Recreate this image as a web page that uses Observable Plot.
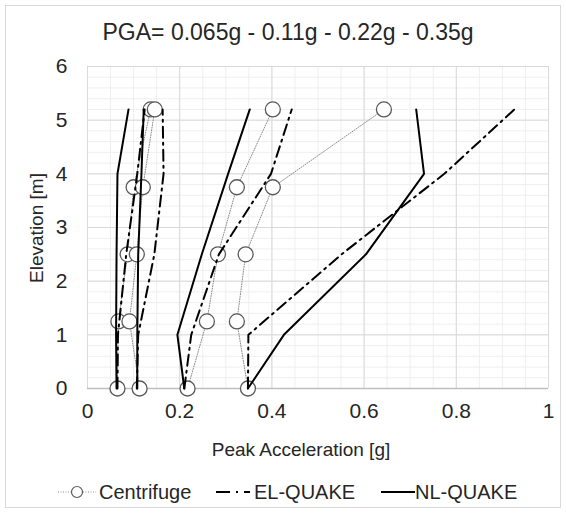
<!DOCTYPE html>
<html><head><meta charset="utf-8">
<script src="https://cdn.jsdelivr.net/npm/d3@7"></script>
<script src="https://cdn.jsdelivr.net/npm/@observablehq/plot@0.6"></script>
<style>
body{margin:0;background:#fff;}
#wrap{position:relative;width:566px;height:513px;font-family:"Liberation Sans",Arial,sans-serif;color:#262626;overflow:hidden;}
#frame{position:absolute;left:5px;top:5px;width:554px;height:501px;border:1px solid #d9d9d9;}
#title{position:absolute;left:0;width:576px;top:19px;text-align:center;font-size:23px;white-space:nowrap;}
#chart{position:absolute;left:0;top:0;}
#xlab{position:absolute;left:201px;width:200px;top:439px;text-align:center;font-size:19px;white-space:nowrap;}
#ylab{position:absolute;left:37px;top:228px;transform:translate(-50%,-50%) rotate(-90deg);font-size:19px;white-space:nowrap;}
#legend{position:absolute;left:0;top:476px;}
</style></head>
<body>
<div id="wrap">
  <div id="frame"></div>
  <div id="chart"></div>
  <div id="title">PGA= 0.065g - 0.11g - 0.22g - 0.35g</div>
  <div id="xlab">Peak Acceleration [g]</div>
  <div id="ylab">Elevation [m]</div>
  <div id="legend"></div>
</div>
<script>
// ---- data ----
const pgaLevels = ["0.065g", "0.11g", "0.22g", "0.35g"];
const elevCentrifuge = [0, 1.25, 2.5, 3.75, 5.2];
const elevQuake = [0, 1, 2.5, 4, 5.2];
const centrifuge065 = [0.065, 0.067, 0.087, 0.100, 0.137];
const centrifuge011 = [0.113, 0.091, 0.107, 0.120, 0.146];
const centrifuge022 = [0.217, 0.259, 0.283, 0.324, 0.402];
const centrifuge035 = [0.348, 0.324, 0.343, 0.402, 0.643];
const elQuake065 = [0.065, 0.066, 0.084, 0.108, 0.124];
const elQuake011 = [0.107, 0.110, 0.145, 0.165, 0.163];
const elQuake022 = [0.210, 0.225, 0.285, 0.398, 0.443];
const elQuake035 = [0.348, 0.349, 0.551, 0.774, 0.926];
const nlQuake065 = [0.063, 0.062, 0.063, 0.065, 0.089];
const nlQuake011 = [0.108, 0.108, 0.110, 0.117, 0.122];
const nlQuake022 = [0.210, 0.195, 0.248, 0.305, 0.352];
const nlQuake035 = [0.348, 0.426, 0.604, 0.730, 0.713];
const xTicks = [0, 0.2, 0.4, 0.6, 0.8, 1];
const yTicks = [0, 1, 2, 3, 4, 5, 6];
const legendLabels = ["Centrifuge", "EL-QUAKE", "NL-QUAKE"];

// ---- tidy rows ----
function rows(seriesList, elev) {
  const out = [];
  seriesList.forEach((vals, i) => vals.forEach((a, j) => out.push({pga: pgaLevels[i], a, e: elev[j]})));
  return out;
}
const cRows = rows([centrifuge065, centrifuge011, centrifuge022, centrifuge035], elevCentrifuge);
const elRows = rows([elQuake065, elQuake011, elQuake022, elQuake035], elevQuake);
const nlRows = rows([nlQuake065, nlQuake011, nlQuake022, nlQuake035], elevQuake);

const minorX = d3.range(0, 1.0001, 0.05);
const minorY = d3.range(0, 6.0001, 0.2);

const DASHDOT = "11,5,2,5";

const chart = Plot.plot({
  width: 566, height: 460,
  marginLeft: 87, marginRight: 18, marginTop: 66, marginBottom: 72,
  style: {fontFamily: "'Liberation Sans', Arial, sans-serif", fontSize: "21px", color: "#262626", background: "transparent", overflow: "visible"},
  x: {domain: [0, 1], label: null},
  y: {domain: [0, 6], label: null},
  marks: [
    Plot.ruleX(minorX, {stroke: "#efefef", strokeWidth: 1}),
    Plot.ruleY(minorY, {stroke: "#efefef", strokeWidth: 1}),
    Plot.ruleX(xTicks, {stroke: "#d9d9d9", strokeWidth: 1}),
    Plot.ruleY(yTicks, {stroke: "#d9d9d9", strokeWidth: 1}),
    Plot.ruleY([0], {stroke: "#bfbfbf", strokeWidth: 1.3}),
    Plot.axisX({ticks: xTicks, tickSize: 0, tickPadding: 15, tickFormat: d3.format("~g"), fontSize: 21, label: null}),
    Plot.axisY({ticks: yTicks, tickSize: 0, tickPadding: 20, tickFormat: d3.format("d"), fontSize: 21, label: null}),
    Plot.line(cRows, {x: "a", y: "e", z: "pga", stroke: "#8c8c8c", strokeWidth: 1, strokeDasharray: "1,1.5"}),
    Plot.dot(cRows, {x: "a", y: "e", r: 7.5, fill: "white", stroke: "#595959", strokeWidth: 1.3}),
    Plot.line(elRows, {x: "a", y: "e", z: "pga", stroke: "#000", strokeWidth: 2, strokeDasharray: DASHDOT}),
    Plot.line(nlRows, {x: "a", y: "e", z: "pga", stroke: "#000", strokeWidth: 2})
  ]
});
document.getElementById("chart").appendChild(chart);

// ---- legend ----
const lg = d3.select("#legend").append("svg").attr("width", 566).attr("height", 34)
  .style("font-family", "'Liberation Sans', Arial, sans-serif").style("font-size", "20px");
const cy = 16;
lg.append("line").attr("x1", 58).attr("x2", 96).attr("y1", cy).attr("y2", cy).attr("stroke", "#8c8c8c").attr("stroke-dasharray", "1,1.5");
lg.append("circle").attr("cx", 77).attr("cy", cy).attr("r", 5.5).attr("fill", "white").attr("stroke", "#595959").attr("stroke-width", 1.2);
lg.append("text").attr("x", 99).attr("y", cy).attr("dy", "0.35em").attr("fill", "#262626").text(legendLabels[0]);
lg.append("line").attr("x1", 216).attr("x2", 253).attr("y1", cy).attr("y2", cy).attr("stroke", "#000").attr("stroke-width", 2).attr("stroke-dasharray", "14,6,2,6,6");
lg.append("text").attr("x", 254).attr("y", cy).attr("dy", "0.35em").attr("fill", "#262626").text(legendLabels[1]);
lg.append("line").attr("x1", 381).attr("x2", 415).attr("y1", cy).attr("y2", cy).attr("stroke", "#000").attr("stroke-width", 2);
lg.append("text").attr("x", 415).attr("y", cy).attr("dy", "0.35em").attr("fill", "#262626").text(legendLabels[2]);
</script>
</body></html>
